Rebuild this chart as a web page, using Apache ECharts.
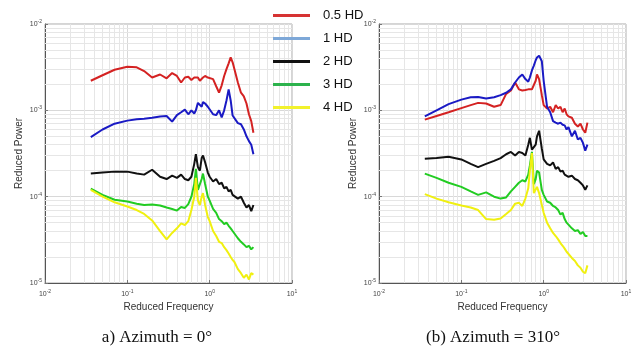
<!DOCTYPE html>
<html>
<head>
<meta charset="utf-8">
<script src="https://cdn.jsdelivr.net/npm/echarts@6/dist/echarts.min.js"></script>
<style>
  html, body { margin: 0; padding: 0; background: #fff; }
  #chart { width: 638px; height: 352px; }
</style>
</head>
<body>
<div id="chart"></div>
<script>
// reduced frequency (shared by every curve)
const freq = [0.036, 0.05, 0.07, 0.1, 0.13, 0.16, 0.2, 0.25, 0.3, 0.35, 0.4, 0.45, 0.5, 0.55, 0.6, 0.65, 0.68, 0.72, 0.76, 0.8,
  0.83, 0.88, 0.95, 1.0, 1.1, 1.2, 1.3, 1.4, 1.5, 1.6, 1.7, 1.8, 1.9, 2.0, 2.2, 2.4, 2.6, 2.8, 3.0, 3.2, 3.4]

const seriesNames = ["0.5 HD", "1 HD", "2 HD", "3 HD", "4 HD"]
const lineColors = ["#d42222", "#1a1ac4", "#111111", "#22cc22", "#f0f010"]
const legendColors = ["#d63333", "#7ea8d8", "#111111", "#2cb24c", "#f2f22c"]
const captions = ["a) Azimuth = 0°", "(b) Azimuth = 310°"]

// azimuth 0
const az0_05 = [2.2e-3, 2.55e-3, 2.95e-3, 3.2e-3, 3.15e-3, 2.85e-3, 2.4e-3, 2.6e-3, 2.35e-3, 2.7e-3, 2.5e-3, 2.1e-3, 2.4e-3, 2.45e-3, 2.25e-3, 2.4e-3, 2.35e-3, 2.4e-3, 2.2e-3, 2.3e-3,
  2.4e-3, 2.5e-3, 2.4e-3, 2.3e-3, 2.3e-3, 1.9e-3, 1.6e-3, 1.95e-3, 2.5e-3, 3.0e-3, 3.5e-3, 4.1e-3, 3.6e-3, 3.0e-3, 2.1e-3, 1.6e-3, 1.45e-3, 1.2e-3, 9e-4, 7.5e-4, 5.5e-4]
const az0_1 = [4.9e-4, 6.0e-4, 7.0e-4, 7.6e-4, 7.9e-4, 8.0e-4, 8.2e-4, 8.5e-4, 8.6e-4, 7.4e-4, 8.8e-4, 9.5e-4, 1.02e-3, 9.0e-4, 1.0e-3, 9.2e-4, 1.0e-3, 1.22e-3, 1.2e-3, 1.1e-3,
  1.25e-3, 1.2e-3, 1.1e-3, 1.05e-3, 9.0e-4, 8.8e-4, 1.0e-3, 8.3e-4, 1.0e-3, 1.3e-3, 1.75e-3, 1.3e-3, 8.7e-4, 8.5e-4, 7.1e-4, 6.9e-4, 6.0e-4, 5.0e-4, 4.4e-4, 4.0e-4, 3.1e-4]
const az0_2 = [1.85e-4, 1.9e-4, 1.95e-4, 1.95e-4, 1.85e-4, 1.8e-4, 2.05e-4, 1.7e-4, 1.6e-4, 1.75e-4, 1.65e-4, 1.8e-4, 1.6e-4, 1.55e-4, 1.7e-4, 2.4e-4, 3.1e-4, 2.2e-4, 2.0e-4, 2.8e-4,
  3.0e-4, 2.5e-4, 1.9e-4, 1.7e-4, 1.5e-4, 1.6e-4, 1.4e-4, 1.45e-4, 1.25e-4, 1.3e-4, 1.15e-4, 1.2e-4, 1.05e-4, 1.1e-4, 9.5e-5, 1.0e-4, 8.5e-5, 7.5e-5, 8.0e-5, 6.8e-5, 8.0e-5]
const az0_3 = [1.24e-4, 1.05e-4, 9.2e-5, 8.8e-5, 8.3e-5, 8.0e-5, 8.1e-5, 7.9e-5, 7.5e-5, 7.2e-5, 6.9e-5, 7.6e-5, 7.4e-5, 8.2e-5, 1.0e-4, 1.4e-4, 2.1e-4, 1.2e-4, 1.15e-4, 1.6e-4,
  1.85e-4, 1.4e-4, 1.0e-4, 9.0e-5, 7.2e-5, 6.5e-5, 5.5e-5, 5.2e-5, 4.8e-5, 5.0e-5, 4.6e-5, 4.3e-5, 4.0e-5, 3.9e-5, 3.3e-5, 3.0e-5, 2.8e-5, 2.6e-5, 2.7e-5, 2.45e-5, 2.6e-5]
const az0_4 = [1.2e-4, 1.0e-4, 8.6e-5, 7.7e-5, 7.0e-5, 6.3e-5, 5.3e-5, 4.0e-5, 3.2e-5, 3.8e-5, 4.3e-5, 4.9e-5, 4.7e-5, 5.2e-5, 7.0e-5, 1.0e-4, 1.65e-4, 9.0e-5, 8.0e-5, 1.0e-4,
  1.1e-4, 8.0e-5, 5.8e-5, 5.2e-5, 4.0e-5, 3.5e-5, 3.0e-5, 2.9e-5, 2.6e-5, 2.4e-5, 2.2e-5, 2.0e-5, 1.85e-5, 1.75e-5, 1.45e-5, 1.3e-5, 1.15e-5, 1.25e-5, 1.1e-5, 1.3e-5, 1.25e-5]

// azimuth 310
const az310_05 = [7.8e-4, 8.6e-4, 9.5e-4, 1.06e-3, 1.15e-3, 1.22e-3, 1.2e-3, 1.1e-3, 1.15e-3, 1.55e-3, 1.7e-3, 2.1e-3, 1.75e-3, 1.7e-3, 1.72e-3, 1.75e-3, 1.7e-3, 1.75e-3, 1.8e-3, 2.2e-3,
  2.6e-3, 2.3e-3, 1.5e-3, 1.15e-3, 1.05e-3, 1.1e-3, 9.5e-4, 1.15e-3, 1.05e-3, 1.1e-3, 9.5e-4, 1.05e-3, 9.0e-4, 8.5e-4, 8.2e-4, 7.0e-4, 6.5e-4, 7.0e-4, 6.0e-4, 5.5e-4, 7.2e-4]
const az310_1 = [8.5e-4, 1.0e-3, 1.18e-3, 1.33e-3, 1.42e-3, 1.43e-3, 1.37e-3, 1.42e-3, 1.5e-3, 1.6e-3, 1.75e-3, 2.1e-3, 2.4e-3, 2.6e-3, 2.3e-3, 2.15e-3, 2.4e-3, 2.9e-3, 3.3e-3, 3.8e-3,
  4.1e-3, 4.3e-3, 3.7e-3, 2.2e-3, 1.1e-3, 9.5e-4, 7.5e-4, 7.2e-4, 7.0e-4, 7.2e-4, 6.8e-4, 6.7e-4, 6.0e-4, 6.4e-4, 5.0e-4, 5.8e-4, 4.6e-4, 4.8e-4, 4.2e-4, 3.4e-4, 4.0e-4]
const az310_2 = [2.75e-4, 2.8e-4, 2.9e-4, 2.7e-4, 2.4e-4, 2.2e-4, 2.4e-4, 2.6e-4, 2.8e-4, 3.1e-4, 3.3e-4, 3.0e-4, 3.3e-4, 3.2e-4, 3.0e-4, 4.0e-4, 4.8e-4, 3.5e-4, 3.4e-4, 4.0e-4,
  5.0e-4, 5.8e-4, 3.6e-4, 2.7e-4, 2.4e-4, 2.3e-4, 2.5e-4, 2.1e-4, 2.2e-4, 1.95e-4, 2.0e-4, 1.8e-4, 1.85e-4, 1.7e-4, 1.75e-4, 1.6e-4, 1.55e-4, 1.45e-4, 1.35e-4, 1.2e-4, 1.35e-4]
const az310_3 = [1.85e-4, 1.65e-4, 1.45e-4, 1.3e-4, 1.15e-4, 1.05e-4, 1.12e-4, 1.0e-4, 9.5e-5, 9.8e-5, 1.15e-4, 1.3e-4, 1.45e-4, 1.55e-4, 1.5e-4, 1.8e-4, 2.3e-4, 3.3e-4, 1.4e-4, 1.6e-4,
  2.0e-4, 1.9e-4, 1.2e-4, 1.05e-4, 8.8e-5, 8.5e-5, 7.8e-5, 7.5e-5, 7.0e-5, 6.2e-5, 6.5e-5, 5.5e-5, 5.0e-5, 4.8e-5, 4.3e-5, 4.0e-5, 4.1e-5, 3.7e-5, 3.9e-5, 3.5e-5, 3.5e-5]
const az310_4 = [1.07e-4, 9.5e-5, 8.6e-5, 7.9e-5, 7.5e-5, 7.0e-5, 5.5e-5, 5.4e-5, 5.6e-5, 6.3e-5, 7.0e-5, 8.3e-5, 8.5e-5, 7.8e-5, 9.5e-5, 1.25e-4, 2.0e-4, 3.2e-4, 1.1e-4, 1.15e-4,
  1.3e-4, 1.1e-4, 8.0e-5, 6.5e-5, 5.0e-5, 4.3e-5, 3.8e-5, 3.5e-5, 3.2e-5, 2.9e-5, 2.7e-5, 2.5e-5, 2.3e-5, 2.2e-5, 1.95e-5, 1.8e-5, 1.6e-5, 1.5e-5, 1.35e-5, 1.3e-5, 1.6e-5]

// minor grid positions (2..9 in each decade)
const minorMultipliers = [2, 3, 4, 5, 6, 7, 8, 9]
const xDecades = [0.01, 0.1, 1]
const yDecades = [1e-5, 1e-4, 1e-3]
const xRange = [0.01, 10]
const yRange = [1e-5, 1e-2]

const panels = [
  [az0_05, az0_1, az0_2, az0_3, az0_4],
  [az310_05, az310_1, az310_2, az310_3, az310_4],
]
const gridBoxes = [
  { left: 45, top: 24, width: 247, height: 259 },
  { left: 379, top: 24, width: 247, height: 259 },
]

const chart = echarts.init(document.getElementById("chart"))
const font = "Liberation Sans, Arial, sans-serif"

const tickLabel = {
  color: "#444",
  fontFamily: font,
  formatter: (v) => "{b|10}{s|" + Math.round(Math.log10(v)) + "}",
  rich: {
    b: { fontSize: 7, fontFamily: font, color: "#444" },
    s: { fontSize: 5, fontFamily: font, color: "#444", padding: [0, 0, 5, 0] },
  },
}

// minor grid lines as coordinate pairs through the axes
const minorLines = []
xDecades.forEach((d) => minorMultipliers.forEach((m) => minorLines.push([{ coord: [d * m, yRange[0]] }, { coord: [d * m, yRange[1]] }])))
yDecades.forEach((d) => minorMultipliers.forEach((m) => minorLines.push([{ coord: [xRange[0], d * m] }, { coord: [xRange[1], d * m] }])))

const series = []
panels.forEach((curves, p) => {
  series.push({
    type: "line",
    xAxisIndex: p,
    yAxisIndex: p,
    data: [[0.01, 1e-5]],
    symbol: "none",
    lineStyle: { opacity: 0 },
    silent: true,
    z: 1,
    markLine: {
      silent: true,
      z: 1,
      symbol: "none",
      label: { show: false },
      lineStyle: { color: "#e6e6e6", type: "solid", width: 1 },
      data: minorLines,
    },
  })
  curves.forEach((vals, i) => {
    series.push({
      name: seriesNames[i],
      type: "line",
      xAxisIndex: p,
      yAxisIndex: p,
      symbol: "none",
      color: lineColors[i],
      lineStyle: { width: 2, color: lineColors[i] },
      data: freq.map((f, k) => [f, vals[k]]),
      z: 3,
    })
  })
})

chart.setOption({
  animation: false,
  backgroundColor: "#fff",
  grid: gridBoxes.map((b) => ({ ...b, show: true, borderColor: "#aaa", borderWidth: 1, backgroundColor: "#fff" })),
  legend: {
    orient: "vertical",
    left: 268,
    top: 4,
    icon: "rect",
    itemWidth: 37,
    itemHeight: 3,
    itemGap: 10,
    textStyle: { fontFamily: font, fontSize: 13, color: "#111", padding: [0, 0, 0, 8] },
    data: seriesNames.map((n, i) => ({
      name: n,
      itemStyle: { color: legendColors[i], borderWidth: 0 },
      lineStyle: { color: legendColors[i], width: 3 },
    })),
  },
  xAxis: gridBoxes.map((b, p) => ({
    type: "log",
    logBase: 10,
    gridIndex: p,
    min: xRange[0],
    max: xRange[1],
    name: "Reduced Frequency",
    nameLocation: "middle",
    nameGap: 19,
    nameTextStyle: { fontFamily: font, fontSize: 10, color: "#333" },
    axisLine: { show: true, lineStyle: { color: "#555" } },
    axisTick: { show: true, inside: true, length: 3, lineStyle: { color: "#777" } },
    axisLabel: { ...tickLabel, margin: 6 },
    splitLine: { show: true, lineStyle: { color: "#d8d8d8", width: 1 } },
  })),
  yAxis: gridBoxes.map((b, p) => ({
    type: "log",
    logBase: 10,
    gridIndex: p,
    min: yRange[0],
    max: yRange[1],
    name: "Reduced Power",
    nameLocation: "middle",
    nameRotate: 90,
    nameGap: 21,
    nameTextStyle: { fontFamily: font, fontSize: 10, color: "#333" },
    axisLine: { show: true, lineStyle: { color: "#555" } },
    axisTick: { show: true, inside: true, length: 3, lineStyle: { color: "#777" } },
    axisLabel: { ...tickLabel, margin: 3 },
    splitLine: { show: true, lineStyle: { color: "#d8d8d8", width: 1 } },
  })),
  graphic: [
    { type: "text", x: 157, y: 338, style: { text: captions[0], font: "17px 'Liberation Serif', 'Times New Roman', serif", fill: "#111", align: "center", verticalAlign: "middle" } },
    { type: "text", x: 493, y: 338, style: { text: captions[1], font: "17px 'Liberation Serif', 'Times New Roman', serif", fill: "#111", align: "center", verticalAlign: "middle" } },
  ],
  series,
})
</script>
</body>
</html>
